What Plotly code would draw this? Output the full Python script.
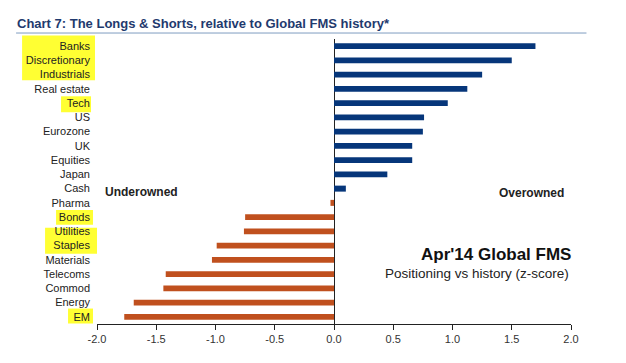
import plotly.graph_objects as go

categories = ["Banks", "Discretionary", "Industrials", "Real estate", "Tech", "US",
              "Eurozone", "UK", "Equities", "Japan", "Cash", "Pharma", "Bonds",
              "Utilities", "Staples", "Materials", "Telecoms", "Commod", "Energy", "EM"]
zscores = [1.70, 1.50, 1.25, 1.125, 0.96, 0.76, 0.75, 0.66, 0.66, 0.45, 0.10, -0.03,
           -0.75, -0.76, -0.99, -1.03, -1.42, -1.44, -1.69, -1.77]
x_ticks = [-2.0, -1.5, -1.0, -0.5, 0.0, 0.5, 1.0, 1.5, 2.0]
x_tick_labels = ["-2.0", "-1.5", "-1.0", "-0.5", "0.0", "0.5", "1.0", "1.5", "2.0"]

NAVY = "#06367A"
ORANGE = "#C0501E"
colors = [NAVY if v >= 0 else ORANGE for v in zscores]

OFF = 8  # page body margin
W, H = 626 - OFF, 363 - OFF
L, R, T, B = 97 - OFF, 571.5 - OFF, 38.5 - OFF, 324.5 - OFF


def px(x):
    return (x - OFF - L) / (R - L)


def py(y):
    return (B - (y - OFF)) / (B - T)


fig = go.Figure(go.Bar(
    x=zscores, y=categories, orientation="h",
    marker=dict(color=colors, line=dict(width=0)),
    width=0.42,
))

# highlight boxes behind labels (reference pixel extents)
boxes = [(22, 35, 95, 80), (61, 96, 91, 112), (56, 210, 93, 225),
         (45, 228, 97, 254), (68, 309, 93, 324)]
shapes = []
for x0, y0, x1, y1 in boxes:
    shapes.append(dict(type="rect", xref="paper", yref="paper",
                       x0=px(x0), x1=px(x1), y0=py(y1), y1=py(y0),
                       fillcolor="#FFFF33", line=dict(width=0), layer="below"))
# title underline
shapes.append(dict(type="line", xref="paper", yref="paper",
                   x0=px(16), x1=px(587), y0=py(32.5), y1=py(32.5),
                   line=dict(color="#7F9CC0", width=1)))

FONT = "Liberation Sans, Arial"
annotations = [
    dict(text="<b>Chart 7: The Longs & Shorts, relative to Global FMS history*</b>",
         xref="paper", yref="paper", x=px(15), y=py(23), xanchor="left", yanchor="middle",
         showarrow=False, font=dict(family=FONT, size=13, color="#1F3A6E")),
    dict(text="<b>Underowned</b>", xref="paper", yref="paper", x=px(103), y=py(192),
         xanchor="left", yanchor="middle", showarrow=False,
         font=dict(family=FONT, size=12, color="#222")),
    dict(text="<b>Overowned</b>", xref="paper", yref="paper", x=px(566), y=py(193),
         xanchor="right", yanchor="middle", showarrow=False,
         font=dict(family=FONT, size=12, color="#222")),
    dict(text="<b>Apr'14 Global FMS</b>", xref="paper", yref="paper", x=px(574), y=py(255),
         xanchor="right", yanchor="middle", showarrow=False,
         font=dict(family=FONT, size=17, color="#111")),
    dict(text="Positioning vs history (z-score)", xref="paper", yref="paper", x=px(572), y=py(274),
         xanchor="right", yanchor="middle", showarrow=False,
         font=dict(family=FONT, size=13.5, color="#222")),
]

fig.update_layout(
    width=W, height=H,
    margin=dict(l=L, r=W - R, t=T, b=H - B, pad=0),
    paper_bgcolor="white", plot_bgcolor="white",
    showlegend=False,
    shapes=shapes, annotations=annotations,
    font=dict(family=FONT, size=11, color="#222"),
    xaxis=dict(range=[-2, 2], tickvals=x_ticks, ticktext=x_tick_labels,
               showgrid=False, zeroline=True, zerolinecolor="#222", zerolinewidth=1,
               showline=True, linecolor="#222", linewidth=1,
               ticks="outside", ticklen=5, tickcolor="#222",
               tickfont=dict(size=11, color="#333")),
    yaxis=dict(categoryorder="array", categoryarray=categories, autorange=False,
               range=[19.5, -0.5], showgrid=False, showline=False, ticks="",
               ticklabelstandoff=6, tickfont=dict(size=11, color="#222")),
    bargap=0.58,
)

fig.write_html("out.html")
